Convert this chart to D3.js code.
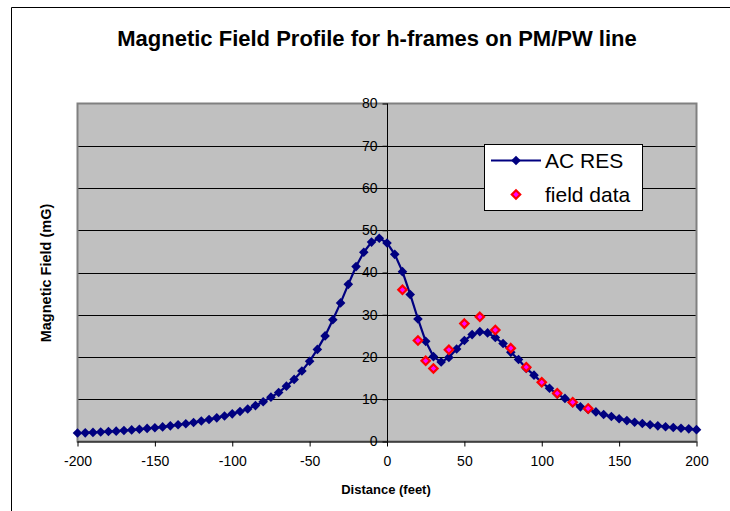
<!DOCTYPE html>
<html>
<head>
<meta charset="utf-8">
<script src="https://cdn.jsdelivr.net/npm/d3@7"></script>
<style>
  html, body { margin: 0; padding: 0; background: #fff; }
  svg { display: block; font-family: "Liberation Sans", Arial, sans-serif; }
</style>
</head>
<body>
<svg id="chart" width="730" height="511"></svg>
<script>
// ---- data ----
const distances = [-200,-195,-190,-185,-180,-175,-170,-165,-160,-155,-150,-145,-140,-135,-130,-125,-120,-115,-110,-105,
  -100,-95,-90,-85,-80,-75,-70,-65,-60,-55,-50,-45,-40,-35,-30,-25,-20,-15,-10,-5,
  0,5,10,15,20,25,30,35,40,45,50,55,60,65,70,75,80,85,90,95,
  100,105,110,115,120,125,130,135,140,145,150,155,160,165,170,175,180,185,190,195,200];
const acRes = [2.0,2.05,2.15,2.25,2.35,2.45,2.6,2.75,2.9,3.1,3.25,3.45,3.7,3.95,4.2,4.5,4.85,5.2,5.6,6.05,
  6.55,7.1,7.7,8.5,9.4,10.5,11.6,13.1,14.7,16.7,19.0,21.8,25.0,28.8,32.8,37.2,41.4,44.8,47.2,48.1,
  47.0,44.3,40.2,34.8,29.0,23.7,20.1,18.8,19.9,21.9,23.9,25.3,26.0,25.7,24.6,23.2,21.1,19.4,17.3,15.7,
  14.0,12.6,11.2,10.2,9.2,8.2,7.6,7.0,6.4,5.9,5.4,4.95,4.55,4.25,3.95,3.7,3.5,3.3,3.15,3.0,2.8];
const fieldX = [10,20,25,30,40,50,60,70,80,90,100,110,120,130];
const fieldY = [35.9,23.9,19.1,17.3,21.7,27.9,29.5,26.4,22.1,17.6,14.0,11.4,9.3,7.8];
const xTicks = [-200,-150,-100,-50,0,50,100,150,200];
const yTicks = [0,10,20,30,40,50,60,70,80];
const titleText = "Magnetic Field Profile for h-frames on PM/PW line";
const xTitle = "Distance (feet)";
const yTitle = "Magnetic Field (mG)";
const legendLabels = ["AC RES", "field data"];

// ---- layout ----
const svg = d3.select("#chart");
const L = 77.5, R = 696.5, T = 103.5, B = 441.5;
const x = d3.scaleLinear().domain([-200, 200]).range([L, R]);
const y = d3.scaleLinear().domain([0, 80]).range([B, T]);

// outer frame
svg.append("line").attr("x1", 11.5).attr("x2", 730).attr("y1", 7.5).attr("y2", 7.5).attr("stroke", "#000");
svg.append("line").attr("x1", 11.5).attr("x2", 11.5).attr("y1", 7.5).attr("y2", 511).attr("stroke", "#000");

// plot background
svg.append("rect").attr("x", L).attr("y", T).attr("width", R - L).attr("height", B - T)
  .attr("fill", "#C0C0C0");

// gridlines
svg.append("g").selectAll("line").data(yTicks.filter(v => v > 0 && v < 80)).join("line")
  .attr("x1", L).attr("x2", R)
  .attr("y1", d => Math.round(y(d)) + 0.5).attr("y2", d => Math.round(y(d)) + 0.5)
  .attr("stroke", "#000").attr("stroke-width", 1);

// plot border
svg.append("rect").attr("x", L).attr("y", T).attr("width", R - L).attr("height", B - T)
  .attr("fill", "none").attr("stroke", "#808080").attr("stroke-width", 2);

// x axis
const xAxis = d3.axisBottom(x).tickValues(xTicks).tickSize(5).tickPadding(10).tickFormat(d => String(d));
const gx = svg.append("g").attr("transform", `translate(0,${B})`).call(xAxis);
gx.select(".domain").attr("stroke", "#000").attr("d", `M${L},0.5H${R}`);
gx.selectAll(".tick line").attr("stroke", "#000");
gx.selectAll(".tick text").attr("font-size", 14).attr("fill", "#000")
  .attr("font-family", "Liberation Sans, Arial, sans-serif");

// y axis at x = 0
const yAxis = d3.axisLeft(y).tickValues(yTicks).tickSize(5).tickPadding(5).tickFormat(d => String(d));
const gy = svg.append("g").attr("transform", `translate(${Math.round(x(0)) + 0.5},0)`).call(yAxis);
gy.select(".domain").attr("stroke", "#000").attr("d", `M0,${T}V${B}`);
gy.selectAll(".tick line").attr("stroke", "#000");
gy.selectAll(".tick text").attr("font-size", 14).attr("fill", "#000")
  .attr("font-family", "Liberation Sans, Arial, sans-serif");

// AC RES line
const acData = distances.map((d, i) => [d, acRes[i]]);
svg.append("path").datum(acData)
  .attr("fill", "none").attr("stroke", "#000080").attr("stroke-width", 2.2)
  .attr("d", d3.line().x(d => x(d[0])).y(d => y(d[1])));

function diamondPath(s) {
  return `M0,${-s}L${s},0L0,${s}L${-s},0Z`;
}
svg.append("g").selectAll("path").data(acData).join("path")
  .attr("transform", d => `translate(${x(d[0])},${y(d[1])})`)
  .attr("d", diamondPath(4.8)).attr("fill", "#000080");

// field data
const fData = fieldX.map((d, i) => [d, fieldY[i]]);
svg.append("g").selectAll("path").data(fData).join("path")
  .attr("transform", d => `translate(${x(d[0])},${y(d[1])})`)
  .attr("d", diamondPath(4.2)).attr("fill", "#FF00FF").attr("stroke", "#FF0000").attr("stroke-width", 2.2);

// title
svg.append("text").attr("x", 377).attr("y", 46).attr("text-anchor", "middle")
  .attr("font-size", 22).attr("font-weight", "bold").attr("fill", "#000").text(titleText);

// axis titles
svg.append("text").attr("x", 386).attr("y", 494).attr("text-anchor", "middle")
  .attr("font-size", 13).attr("font-weight", "bold").attr("fill", "#000").text(xTitle);
svg.append("text").attr("transform", "translate(51,273) rotate(-90)").attr("text-anchor", "middle")
  .attr("font-size", 14.5).attr("font-weight", "bold").attr("fill", "#000").text(yTitle);

// legend
const lg = svg.append("g");
lg.append("rect").attr("x", 484.5).attr("y", 144.5).attr("width", 158).attr("height", 66)
  .attr("fill", "#fff").attr("stroke", "#000").attr("stroke-width", 1);
lg.append("line").attr("x1", 491).attr("x2", 541).attr("y1", 160.5).attr("y2", 160.5)
  .attr("stroke", "#000080").attr("stroke-width", 2.2);
lg.append("path").attr("transform", "translate(516,160.5)").attr("d", diamondPath(4.8)).attr("fill", "#000080");
lg.append("path").attr("transform", "translate(516,194.5)").attr("d", diamondPath(4.2))
  .attr("fill", "#FF00FF").attr("stroke", "#FF0000").attr("stroke-width", 2.2);
lg.append("text").attr("x", 545).attr("y", 168).attr("font-size", 21).attr("fill", "#000").text(legendLabels[0]);
lg.append("text").attr("x", 545).attr("y", 202).attr("font-size", 21).attr("fill", "#000").text(legendLabels[1]);
</script>
</body>
</html>
